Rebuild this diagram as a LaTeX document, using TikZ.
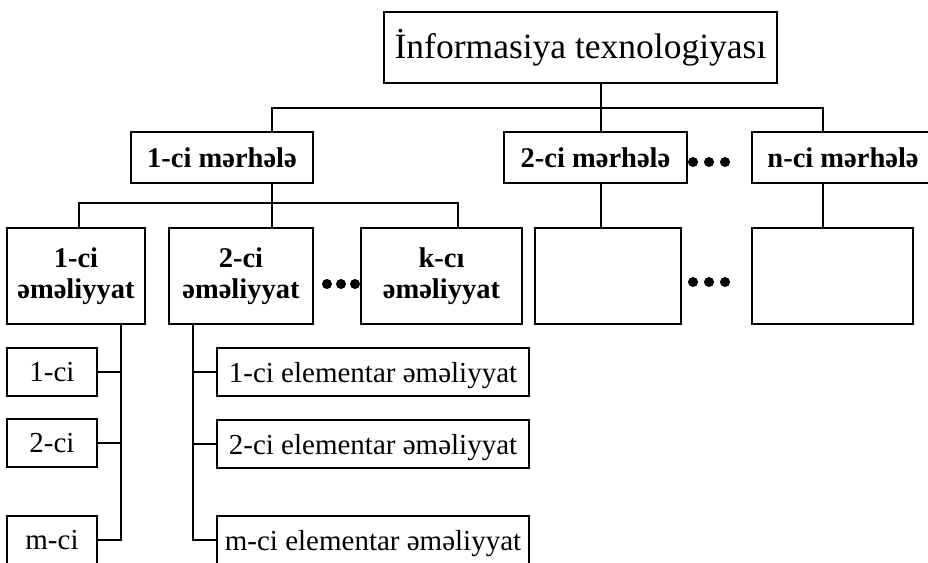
\documentclass[tikz,border=0pt]{standalone}
\usepackage{fontspec}
\setmainfont{Liberation Serif}
\begin{document}
\begin{tikzpicture}[x=1pt,y=-1pt,
  box/.style={draw, line width=1.8pt, inner sep=0pt, align=center, anchor=center},
  title/.style={box, font=\fontsize{35.5}{40}\selectfont},
  stage/.style={box, font=\bfseries\fontsize{28.5}{32}\selectfont, minimum height=51pt},
  oper/.style={box, font=\bfseries\fontsize{28.5}{31.5}\selectfont, minimum height=96pt},
  leaf/.style={box, font=\fontsize{29}{32}\selectfont, text depth=0pt},
  link/.style={line width=1.8pt},
  dotmark/.style={fill=black}]
\useasboundingbox (0,0) rectangle (928,562);
\clip (0,0) rectangle (928,562);

% root
\node[title, minimum width=393pt, minimum height=71pt] (T) at (580.5,47.5) {İnformasiya texnologiyası};

% stages
\node[stage, minimum width=182pt] (S1) at (222,157.5) {1-ci mərhələ};
\node[stage, minimum width=183pt] (S2) at (595.5,157.5) {2-ci mərhələ};
\node[stage, minimum width=182pt] (Sn) at (843,157.5) {n-ci mərhələ};

% operations
\node[oper, minimum width=138pt] (O1) at (76,276) {1-ci\\əməliyyat};
\node[oper, minimum width=144pt] (O2) at (241,276) {2-ci\\əməliyyat};
\node[oper, minimum width=161pt] (Ok) at (441.5,276) {k-cı\\əməliyyat};
\node[oper, minimum width=146pt] (B2) at (608,276) {};
\node[oper, minimum width=161pt] (Bn) at (832.5,276) {};

% parts of the first operation
\node[leaf, minimum width=90pt, minimum height=48pt] (L1) at (52,372) {1-ci};
\node[leaf, minimum width=90pt, minimum height=48pt] (L2) at (52,443) {2-ci};
\node[leaf, minimum width=90pt, minimum height=48pt] (Lm) at (52,540) {m-ci};

% elementary operations of the second operation
\node[leaf, minimum width=312pt, minimum height=48pt] (E1) at (373,372) {1-ci elementar əməliyyat};
\node[leaf, minimum width=312pt, minimum height=48pt] (E2) at (373,444) {2-ci elementar əməliyyat};
\node[leaf, minimum width=312pt, minimum height=48pt] (Em) at (373,540) {m-ci elementar əməliyyat};

% junction points
\coordinate (a0) at (601,108);
\coordinate (s1) at (272,108);
\coordinate (sn) at (823,108);
\coordinate (b0) at (272,203);
\coordinate (b1) at (79,203);
\coordinate (bk) at (458,203);
\coordinate (c1) at (121,540);
\coordinate (c2) at (193,540);

% root to stages
\draw[link] (T.south -| a0) -- (a0);
\draw[link] (S1.north -| s1) -- (s1) -- (sn) -- (Sn.north -| sn);
\draw[link] (S2.north -| a0) -- (a0);

% stage 1 to its operations
\draw[link] (S1.south -| b0) -- (O2.north -| b0);
\draw[link] (O1.north -| b1) -- (b1) -- (bk) -- (Ok.north -| bk);

% other stages
\draw[link] (S2.south -| a0) -- (B2.north -| a0);
\draw[link] (Sn.south -| sn) -- (Bn.north -| sn);

% operation 1 branches
\draw[link] (O1.south -| c1) -- (c1) -- (Lm.east);
\draw[link] (L1.east) -- (L1.east -| c1);
\draw[link] (L2.east) -- (L2.east -| c1);

% operation 2 branches
\draw[link] (O2.south -| c2) -- (c2) -- (Em.west);
\draw[link] (E1.west) -- (E1.west -| c2);
\draw[link] (E2.west) -- (E2.west -| c2);

% ellipsis dots
\foreach \x in {693,709,725} {
  \fill[dotmark] (\x,162) circle (5pt);
  \fill[dotmark] (\x,282) circle (5pt);
}
\foreach \x in {327,341,355} {
  \fill[dotmark] (\x,284) circle (5pt);
}
\end{tikzpicture}
\end{document}
